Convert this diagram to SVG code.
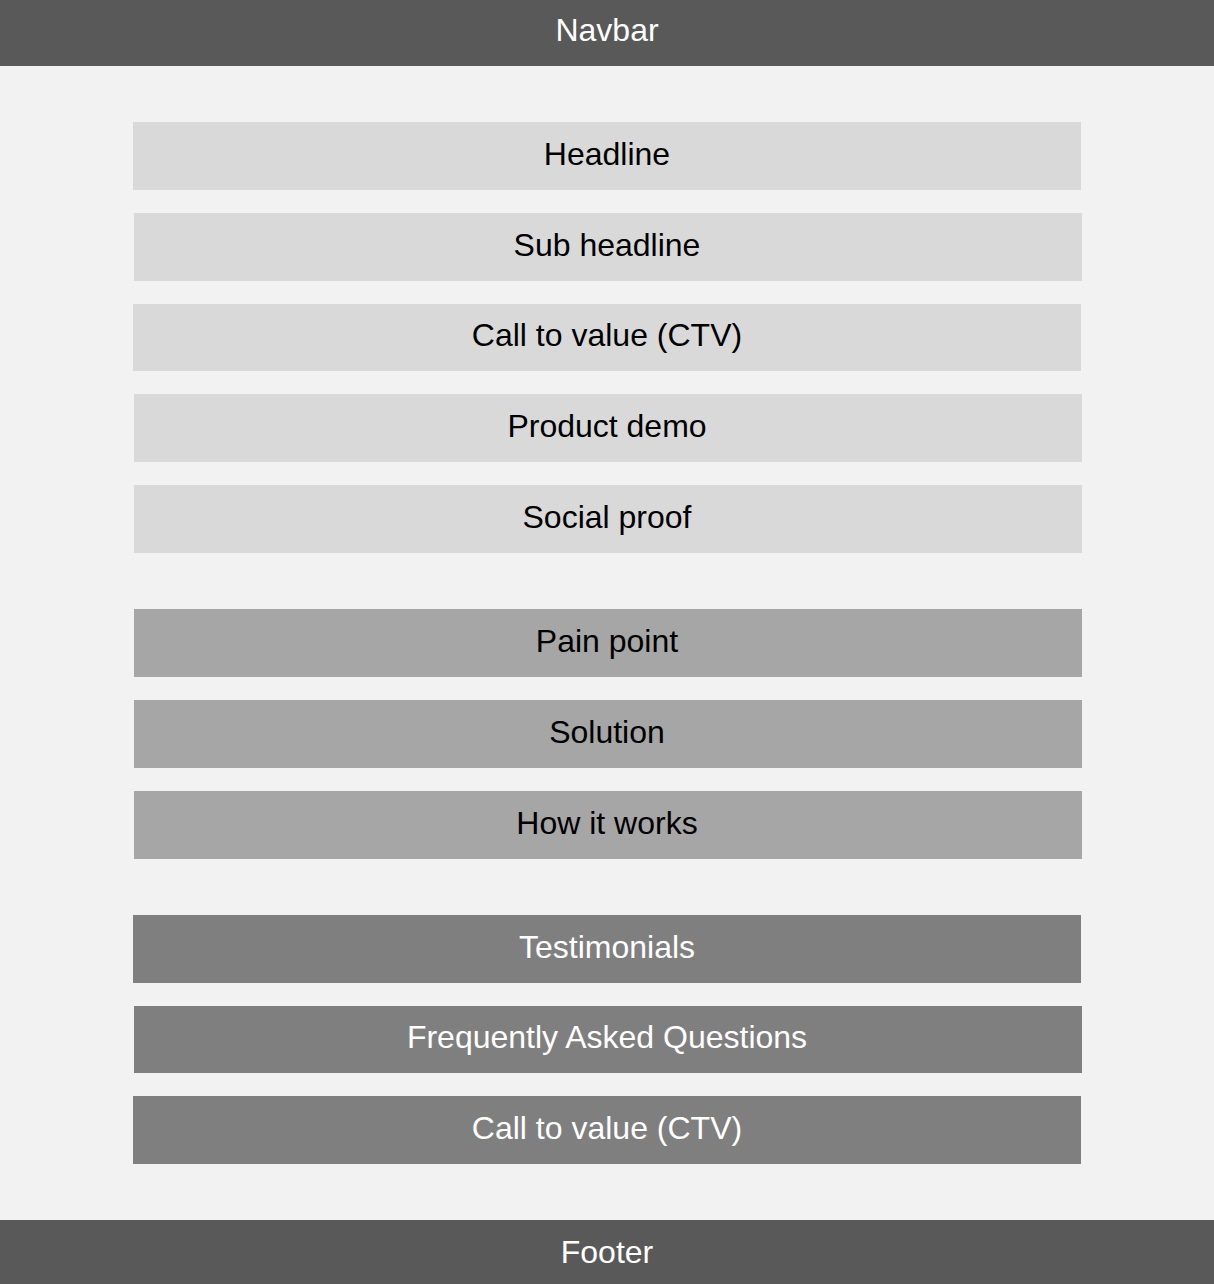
<svg xmlns="http://www.w3.org/2000/svg" width="1214" height="1284" viewBox="0 0 1214 1284">
<style>
text{font-family:"Liberation Sans",Arial,sans-serif;font-size:32px;text-anchor:middle;dominant-baseline:central}
.light{fill:#d9d9d9}.mid{fill:#a6a6a6}.dark{fill:#7f7f7f}.bar{fill:#595959}
.k{fill:#000}.w{fill:#fff}
</style>
<rect width="1214" height="1284" fill="#f2f2f2"/>
<g id="navbar"><rect class="bar" x="0" y="0" width="1214" height="66"/><text class="w" x="607" y="30">Navbar</text></g>
<g id="headline"><rect class="light" x="133" y="122" width="948" height="68"/><text class="k" x="607" y="154">Headline</text></g>
<g id="subheadline"><rect class="light" x="134" y="213" width="948" height="68"/><text class="k" x="607" y="245">Sub headline</text></g>
<g id="ctv1"><rect class="light" x="133" y="304" width="948" height="67"/><text class="k" x="607" y="335">Call to value (CTV)</text></g>
<g id="demo"><rect class="light" x="134" y="394" width="948" height="68"/><text class="k" x="607" y="426">Product demo</text></g>
<g id="social"><rect class="light" x="134" y="485" width="948" height="68"/><text class="k" x="607" y="517">Social proof</text></g>
<g id="pain"><rect class="mid" x="134" y="609" width="948" height="68"/><text class="k" x="607" y="641">Pain point</text></g>
<g id="solution"><rect class="mid" x="134" y="700" width="948" height="68"/><text class="k" x="607" y="732">Solution</text></g>
<g id="how"><rect class="mid" x="134" y="791" width="948" height="68"/><text class="k" x="607" y="823">How it works</text></g>
<g id="testimonials"><rect class="dark" x="133" y="915" width="948" height="68"/><text class="w" x="607" y="947">Testimonials</text></g>
<g id="faq"><rect class="dark" x="134" y="1006" width="948" height="67"/><text class="w" x="607" y="1037">Frequently Asked Questions</text></g>
<g id="ctv2"><rect class="dark" x="133" y="1096" width="948" height="68"/><text class="w" x="607" y="1128">Call to value (CTV)</text></g>
<g id="footer"><rect class="bar" x="0" y="1220" width="1214" height="64"/><text class="w" x="607" y="1252">Footer</text></g>
<g id="connectors"/>
</svg>
